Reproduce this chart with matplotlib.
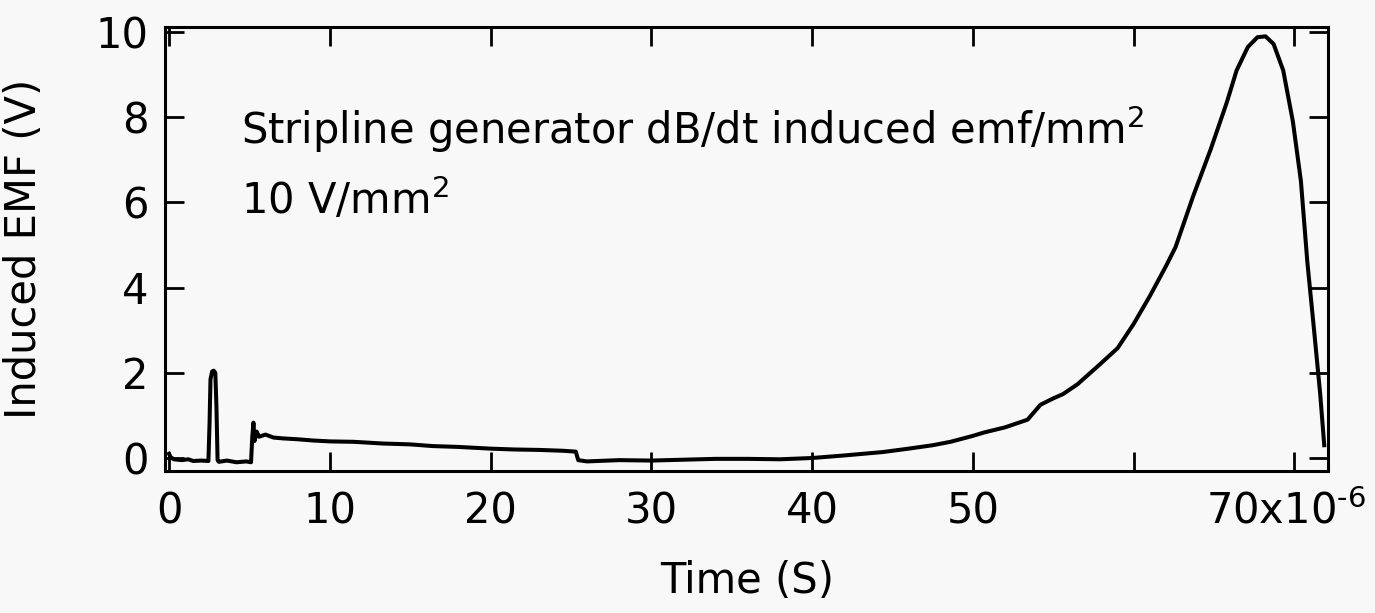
import matplotlib
matplotlib.use("Agg")
import matplotlib.pyplot as plt

# time in units of 1e-6 s, induced emf in V
time_us = [0.0, 0.1, 0.3, 0.8, 1.2, 1.5, 2.0, 2.45, 2.52, 2.58, 2.68, 2.78, 2.88,
           2.95, 3.02, 3.1, 3.6, 4.2, 4.8, 5.1, 5.18, 5.25, 5.32, 5.45, 5.6,
           6.0, 6.5, 7.1, 8.0, 9.0, 10.0, 11.5, 13.3, 15.0, 16.4, 18.0, 20.0,
           21.5, 23.0, 24.5, 25.3, 25.45, 26.0, 28.0, 30.0, 32.0, 34.0, 36.0,
           38.0, 40.0, 42.0, 44.4, 46.0, 47.5, 48.6, 50.0, 50.7, 52.0, 53.4,
           54.2, 55.0, 55.6, 56.5, 57.9, 59.0, 60.0, 61.0, 62.0, 62.6, 63.7,
           64.8, 65.8, 66.4, 67.1, 67.7, 68.2, 68.7, 69.3, 69.9, 70.4, 70.8,
           71.2, 71.6, 71.85]
emf_v = [0.10, 0.02, -0.03, -0.05, -0.03, -0.07, -0.06, -0.07, 0.80, 1.85, 2.03,
         2.05, 2.00, 1.20, -0.05, -0.09, -0.06, -0.10, -0.08, -0.10, 0.50, 0.83,
         0.40, 0.62, 0.50, 0.55, 0.48, 0.46, 0.44, 0.41, 0.39, 0.38, 0.34, 0.32,
         0.28, 0.26, 0.22, 0.20, 0.19, 0.17, 0.15, -0.05, -0.08, -0.05, -0.06,
         -0.04, -0.02, -0.02, -0.03, 0.00, 0.06, 0.14, 0.22, 0.30, 0.38, 0.52,
         0.60, 0.72, 0.90, 1.25, 1.40, 1.50, 1.73, 2.20, 2.58, 3.15, 3.80, 4.50,
         4.95, 6.15, 7.26, 8.36, 9.10, 9.65, 9.88, 9.90, 9.72, 9.10, 7.90, 6.50,
         4.60, 3.07, 1.50, 0.30]

x_ticks = [0, 10, 20, 30, 40, 50, 60, 70]
x_labels = ["0", "10", "20", "30", "40", "50", "", r"70x10$^{\text{-6}}$"]
y_ticks = [0, 2, 4, 6, 8, 10]

plt.rcParams["font.family"] = ["DejaVu Sans"]
plt.rcParams["mathtext.fontset"] = "dejavusans"

fig = plt.figure(figsize=(13.75, 6.13), dpi=100, facecolor="#f8f8f8")
ax = fig.add_axes([0.12, 0.232, 0.846, 0.724])
ax.set_facecolor("#f8f8f8")

ax.plot(time_us, emf_v, color="black", lw=2.9)

ax.set_xlim(-0.25, 72.1)
ax.set_ylim(-0.3, 10.12)
ax.set_xticks(x_ticks)
ax.set_xticklabels(x_labels)
ax.set_yticks(y_ticks)
ax.tick_params(direction="in", length=14, width=2, top=True, right=True,
               labelsize=30, pad=12)
ax.tick_params(axis="x", pad=14)
for s in ax.spines.values():
    s.set_linewidth(2.2)

# last label sits a bit left so it stays inside the figure
ax.get_xticklabels()[-1].set_horizontalalignment("right")
ax.get_xticklabels()[-1].set_x(70)
lab = ax.get_xticklabels()[-1]
import matplotlib.transforms as mtrans
lab.set_transform(lab.get_transform() + mtrans.ScaledTranslation(0.72, 0, fig.dpi_scale_trans))

ax.set_xlabel("Time (S)", fontsize=30)
ax.set_ylabel("Induced EMF (V)", fontsize=30)
ax.xaxis.set_label_coords(0.5, -0.2)
ax.yaxis.set_label_coords(-0.103, 0.5)

ax.text(4.5, 7.37, "Stripline generator dB/dt induced emf/mm$^2$",
        fontsize=30, va="baseline")
ax.text(4.5, 5.73, "10 V/mm$^2$", fontsize=30, va="baseline")

fig.savefig("out.png", dpi=100, facecolor=fig.get_facecolor())
